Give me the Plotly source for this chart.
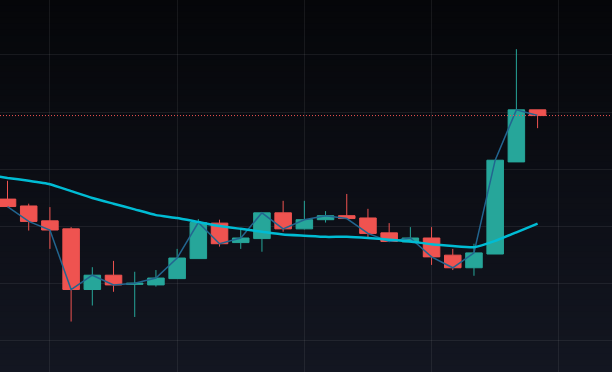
import plotly.graph_objects as go

# ---- data ----
idx = list(range(26))
opens  = [124.8, 123.6, 121.0, 119.6, 109.0, 111.5, 109.9, 109.8, 110.9, 114.4,
          120.6, 117.2, 117.9, 122.4, 119.6, 121.2, 121.9, 121.5, 118.9, 117.3,
          118.0, 115.0, 112.8, 115.2, 131.3, 140.4]
highs  = [128.0, 124.0, 123.4, 119.9, 112.9, 114.0, 112.1, 112.4, 116.1, 121.3,
          121.2, 119.4, 122.4, 124.5, 124.5, 122.7, 125.7, 123.1, 120.6, 119.9,
          119.9, 116.1, 117.0, 131.6, 151.0, 140.4]
lows   = [123.4, 119.3, 116.1, 103.4, 106.2, 108.6, 104.2, 109.5, 110.9, 114.4,
          116.5, 116.1, 115.6, 119.1, 119.5, 120.7, 121.4, 118.1, 117.4, 117.3,
          113.3, 112.4, 111.4, 115.2, 131.3, 137.2]
closes = [123.5, 120.9, 119.4, 109.0, 111.5, 109.8, 110.1, 111.0, 114.5, 120.7,
          117.0, 118.0, 122.4, 119.6, 121.2, 121.9, 121.4, 118.8, 117.4, 118.0,
          114.7, 112.8, 115.4, 131.6, 140.4, 139.4]
ma_idx = list(range(-1, 26))
ma_vals = [129.1, 128.5, 128.0, 127.4, 126.2, 125.0, 124.0, 123.0, 122.0, 121.5,
           120.8, 120.1, 119.6, 119.1, 118.6, 118.4, 118.2, 118.2, 118.0, 117.7,
           117.4, 116.9, 116.6, 116.4, 117.5, 119.0, 120.5]

UP = "#26a69a"
DOWN = "#ef5350"

fig = go.Figure()

# thin close line
fig.add_trace(go.Scatter(x=idx, y=closes, mode="lines",
                         line=dict(color="#22658f", width=1.5),
                         hoverinfo="skip", showlegend=False))
# moving average
fig.add_trace(go.Scatter(x=ma_idx, y=ma_vals, mode="lines",
                         line=dict(color="#00bcd4", width=2.5, shape="spline", smoothing=0.4),
                         hoverinfo="skip", showlegend=False))
# candles
fig.add_trace(go.Candlestick(x=idx, open=opens, high=highs, low=lows, close=closes,
                             increasing=dict(line=dict(color=UP, width=1), fillcolor=UP),
                             decreasing=dict(line=dict(color=DOWN, width=1), fillcolor=DOWN),
                             whiskerwidth=0, showlegend=False))

# background gradient bands
shapes = []
n = 62
top = (5, 6, 9)
bot = (19, 22, 33)
for k in range(n):
    t = (k + 0.5) / n
    c = tuple(round(top[j] + (bot[j] - top[j]) * t) for j in range(3))
    shapes.append(dict(type="rect", xref="paper", yref="paper",
                       x0=0, x1=1, y0=1 - (k + 1) / n, y1=1 - k / n + 0.002,
                       fillcolor="rgb(%d,%d,%d)" % c, line=dict(width=0), layer="below"))
# last price dotted line
shapes.append(dict(type="line", xref="paper", yref="y", x0=0, x1=1,
                   y0=closes[-1], y1=closes[-1],
                   line=dict(color=DOWN, width=1, dash="1px,2px"), layer="above"))

grid = "rgba(255,255,255,0.07)"
fig.update_layout(
    width=612, height=372,
    margin=dict(l=0, r=0, t=0, b=0),
    paper_bgcolor="rgb(19,22,33)",
    plot_bgcolor="rgba(0,0,0,0)",
    shapes=shapes,
    boxgap=0.22, boxgroupgap=0,
    xaxis=dict(range=[-0.354, 28.51], showgrid=True, gridcolor=grid, gridwidth=1,
               tick0=2, dtick=6, showticklabels=False, zeroline=False,
               rangeslider=dict(visible=False), fixedrange=True),
    yaxis=dict(range=[94.58, 159.6], showgrid=True, gridcolor=grid, gridwidth=1,
               tick0=100, dtick=10, showticklabels=False, zeroline=False, fixedrange=True),
    showlegend=False,
)

fig.write_html("out.html", config=dict(displayModeBar=False),
               post_script="document.body.style.margin='0';document.body.style.padding='0';")
